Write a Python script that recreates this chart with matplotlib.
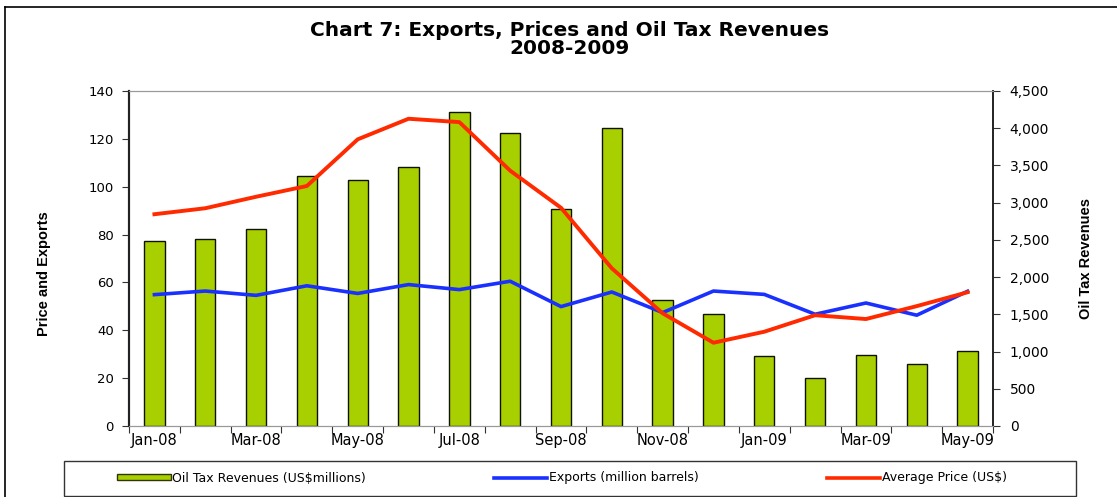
import matplotlib
matplotlib.use("Agg")
from matplotlib import pyplot as plt
from matplotlib.patches import Patch, Rectangle
from matplotlib.lines import Line2D

months = ["Jan-08", "Feb-08", "Mar-08", "Apr-08", "May-08", "Jun-08", "Jul-08", "Aug-08", "Sep-08",
          "Oct-08", "Nov-08", "Dec-08", "Jan-09", "Feb-09", "Mar-09", "Apr-09", "May-09"]
oil_tax = [2485, 2512, 2642, 3362, 3300, 3479, 4222, 3931, 2919,
           4007, 1697, 1509, 936, 640, 958, 833, 1003]
exports = [54.9, 56.4, 54.6, 58.6, 55.4, 59.1, 57.0, 60.5, 49.9,
           56.0, 47.4, 56.4, 55.0, 46.7, 51.4, 46.3, 56.3]
price = [88.5, 91.0, 95.8, 100.3, 119.8, 128.4, 127.0, 106.7, 91.2,
         65.9, 47.1, 34.8, 39.4, 46.3, 44.7, 50.1, 55.9]
left_ticks = [0, 20, 40, 60, 80, 100, 120, 140]
right_ticks = [0, 500, 1000, 1500, 2000, 2500, 3000, 3500, 4000, 4500]

bar_color = "#A8D000"
blue = "#1A30FF"
red = "#FF2A00"
sans = ["Liberation Sans", "DejaVu Sans"]
wide = "DejaVu Sans"

W, H = 1117, 497
fig = plt.figure(figsize=(W / 100, H / 100), dpi=100)
ax = fig.add_axes([129 / W, 1 - 426 / H, (993 - 129) / W, (426 - 91) / H])
ax2 = ax.twinx()

x = list(range(len(months)))
ax2.bar(x, oil_tax, width=0.4, color=bar_color, edgecolor="#111100", linewidth=1.0)
ax.plot(x, exports, color=blue, linewidth=2.6)
ax.plot(x, price, color=red, linewidth=2.8)

# lines above bars
ax.set_zorder(ax2.get_zorder() + 1)
ax.patch.set_visible(False)

ax.set_xlim(-0.5, len(months) - 0.5)
ax.set_ylim(0, 140)
ax2.set_ylim(0, 4500)

ax.set_yticks(left_ticks)
ax.set_yticklabels([str(v) for v in left_ticks], fontfamily=wide, fontsize=9.5)
ax2.set_yticks(right_ticks)
ax2.set_yticklabels([f"{v:,}" for v in right_ticks], fontfamily=wide, fontsize=10)

ax.set_xticks([i - 0.5 for i in range(len(months) + 1)])
ax.set_xticklabels([])
ax.set_xticks(x[::2], minor=True)
ax.set_xticklabels(months[::2], minor=True, fontfamily=wide, fontsize=10.5)
ax.tick_params(axis="x", which="major", direction="out", length=5, color="#333333")
ax.tick_params(axis="x", which="minor", length=0, pad=5)
ax.tick_params(axis="y", direction="out", length=5, color="#333333", pad=6)
ax2.tick_params(axis="y", direction="out", length=5, color="#333333", pad=7)

for a in (ax, ax2):
    a.spines["top"].set_color("#999999")
    a.spines["bottom"].set_color("#999999")
    a.spines["left"].set_color("#222222")
    a.spines["right"].set_color("#222222")
    a.spines["left"].set_linewidth(1.5)
    a.spines["right"].set_linewidth(1.2)

ax.set_ylabel("Price and Exports", fontfamily=sans, fontweight="bold", fontsize=10.5)
ax.yaxis.set_label_coords(-0.09, 0.455)
ax2.set_ylabel("Oil Tax Revenues", fontfamily=sans, fontweight="bold", fontsize=10.5, rotation=90)
ax2.yaxis.set_label_coords(1.10, 0.50)

fig.text(0.51, 1 - 30 / H, "Chart 7: Exports, Prices and Oil Tax Revenues",
         ha="center", va="center", fontfamily=wide, fontweight="bold", fontsize=14.5)
fig.text(0.51, 1 - 48.5 / H, "2008-2009",
         ha="center", va="center", fontfamily=wide, fontweight="bold", fontsize=14.5)

# outer frame (only top and left edges visible in the original crop)
fig.add_artist(Line2D([5 / W, 5 / W], [0, 1 - 7 / H], transform=fig.transFigure,
                      color="black", linewidth=1.2))
fig.add_artist(Line2D([5 / W, 1], [1 - 7 / H, 1 - 7 / H], transform=fig.transFigure,
                      color="black", linewidth=1.2))

# legend box
fig.add_artist(Rectangle((64 / W, 1 - 496 / H), (1076 - 64) / W, (496 - 461) / H,
                         transform=fig.transFigure, fill=False, edgecolor="#333333", linewidth=1.0))

handles = [Patch(facecolor=bar_color, edgecolor="#333300", linewidth=1.0),
           Line2D([], [], color=blue, linewidth=2.6),
           Line2D([], [], color=red, linewidth=2.6)]
labels = ["Oil Tax Revenues (US$millions)", "Exports (million barrels)", "Average Price (US$)"]
fig.legend(handles, labels, loc="center", ncol=3, bbox_to_anchor=(562 / W, 1 - 478 / H),
           frameon=False, handlelength=4.3, handleheight=0.35, handletextpad=0.15,
           columnspacing=10.2, prop={"family": wide, "size": 9})

fig.savefig("out.png", dpi=100)
